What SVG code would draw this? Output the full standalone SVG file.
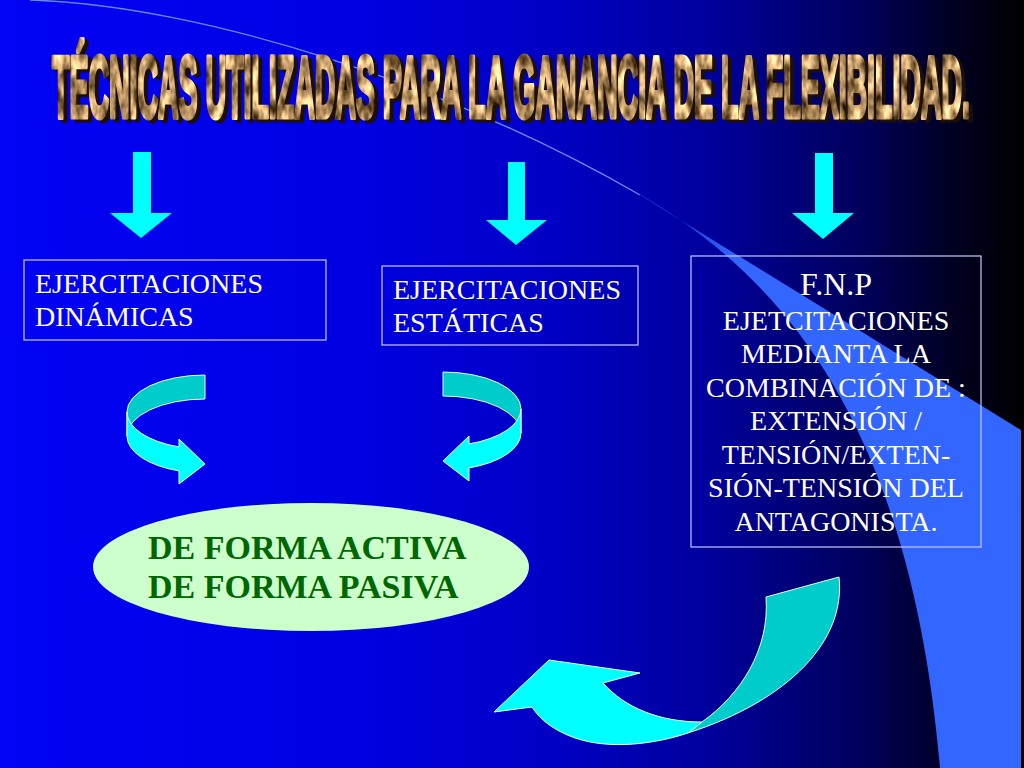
<svg xmlns="http://www.w3.org/2000/svg" width="1024" height="768" viewBox="0 0 1024 768">
  <defs>
    <linearGradient id="bgGrad" x1="0" y1="0" x2="1" y2="0">
      <stop offset="0" stop-color="#0303f5"/>
      <stop offset="0.35" stop-color="#0000e2"/>
      <stop offset="0.55" stop-color="#0000c2"/>
      <stop offset="0.70" stop-color="#00009a"/>
      <stop offset="0.84" stop-color="#00005c"/>
      <stop offset="0.93" stop-color="#000022"/>
      <stop offset="1" stop-color="#000000"/>
    </linearGradient>
    <linearGradient id="bandGrad" gradientUnits="userSpaceOnUse" x1="622" y1="184" x2="730" y2="270">
      <stop offset="0" stop-color="#3366ff" stop-opacity="0.25"/>
      <stop offset="1" stop-color="#3366ff" stop-opacity="1"/>
    </linearGradient>
    <filter id="goldTex" x="-2%" y="-25%" width="104%" height="150%" color-interpolation-filters="sRGB">
      <feTurbulence type="fractalNoise" baseFrequency="0.1 0.16" numOctaves="3" seed="7" result="noise"/>
      <feColorMatrix in="noise" type="matrix" values="1.7 0 0 0 -0.1  1.5 0 0 0 -0.15  1.2 0 0 0 -0.2  0 0 0 0 1" result="tex"/>
      <feComposite in="tex" in2="SourceAlpha" operator="in" result="goldText"/>
      <feOffset in="SourceAlpha" dx="4" dy="0.9" result="off"/>
      <feFlood flood-color="#1c0f05"/>
      <feComposite in2="off" operator="in" result="shadow"/>
      <feMerge>
        <feMergeNode in="shadow"/>
        <feMergeNode in="goldText"/>
      </feMerge>
    </filter>
    <style>
      .box { fill: none; stroke: #c8c8ff; stroke-width: 1.2; }
      .lbl { font-family: "Liberation Serif", "Times New Roman", serif; font-size: 28px; fill: #ffffff; }
      .ctr { text-anchor: middle; }
      .green { font-family: "Liberation Serif", "Times New Roman", serif; font-size: 34px; font-weight: bold; fill: #006600; }
      .down { fill: #00ffff; }
      .back { fill: #00cccc; stroke: #e6ffff; stroke-width: 1; stroke-linejoin: round; }
      .front { fill: #00ffff; stroke: #e6ffff; stroke-width: 1; stroke-linejoin: round; }
    </style>
  </defs>

  <g id="background">
    <rect x="0" y="0" width="1024" height="768" fill="url(#bgGrad)"/>
    <path d="M 30,0 C 200,5 450,85 640,195" fill="none" stroke="#6a8cff" stroke-width="1.3"/>
    <path d="M 622,184 C 780,270 910,420 940,768 L 1021,768 L 1021,430 Z" fill="url(#bandGrad)"/>
  </g>

  <g id="title">
    <text transform="translate(52,117) scale(1,3.5)" x="0" y="0" font-family="'Liberation Sans', Arial, sans-serif" font-weight="bold" font-size="25" textLength="918" lengthAdjust="spacingAndGlyphs" fill="#c0a070" stroke="#c0a070" stroke-width="1.5" stroke-linejoin="round" filter="url(#goldTex)">TÉCNICAS UTILIZADAS PARA LA GANANCIA DE LA FLEXIBILIDAD.</text>
  </g>

  <g id="connectors">
    <path class="down" d="M133,152 H151 V213 H172 L141,238 L110,213 H133 Z"/>
    <path class="down" d="M508,162 H525 V220 H547 L516,245 L486,220 H508 Z"/>
    <path class="down" d="M815,153 H833 V213 H854 L823,239 L792,213 H815 Z"/>
    <g id="curl-left">
      <path class="back" d="M205,375 A78,37 0 0 0 127,412 L127,436 A78,37 0 0 1 205,399 Z"/>
      <path class="front" d="M127,412 A78,37 0 0 0 179,446.9 L179,439 L205,464 L179,484 L179,470.9 A78,37 0 0 1 127,436 Z"/>
    </g>
    <g id="curl-right" transform="translate(648,-3) scale(-1,1)">
      <path class="back" d="M205,375 A78,37 0 0 0 127,412 L127,436 A78,37 0 0 1 205,399 Z"/>
      <path class="front" d="M127,412 A78,37 0 0 0 179,446.9 L179,439 L205,464 L179,484 L179,470.9 A78,37 0 0 1 127,436 Z"/>
    </g>
    <g id="curl-bottom">
      <path class="back" d="M766,597 L839,577 C846,640 790,700 688,733 L702,722 C740,695 770,650 766,597 Z"/>
      <path class="front" d="M603,683 C625,708 660,722 702,722 L688,733 C655,744 610,750 575,738 C555,731 540,720 532,707 L494,712 L549,660 L640,673 Z"/>
    </g>
  </g>

  <g id="node-dinamicas">
    <rect class="box" x="24" y="260" width="302" height="80"/>
    <text class="lbl" x="35" y="293">EJERCITACIONES</text>
    <text class="lbl" x="35" y="326">DINÁMICAS</text>
  </g>

  <g id="node-estaticas">
    <rect class="box" x="382" y="266" width="256" height="79"/>
    <text class="lbl" x="393" y="299">EJERCITACIONES</text>
    <text class="lbl" x="393" y="332">ESTÁTICAS</text>
  </g>

  <g id="node-fnp">
    <rect class="box" x="691" y="256" width="290" height="291"/>
    <text class="lbl ctr" x="836" y="295" style="font-size:32px">F.N.P</text>
    <text class="lbl ctr" x="836" y="330">EJETCITACIONES</text>
    <text class="lbl ctr" x="836" y="363">MEDIANTA LA</text>
    <text class="lbl ctr" x="836" y="397">COMBINACIÓN DE :</text>
    <text class="lbl ctr" x="836" y="430">EXTENSIÓN /</text>
    <text class="lbl ctr" x="836" y="464">TENSIÓN/EXTEN-</text>
    <text class="lbl ctr" x="836" y="497">SIÓN-TENSIÓN DEL</text>
    <text class="lbl ctr" x="836" y="531">ANTAGONISTA.</text>
  </g>

  <g id="node-forma">
    <ellipse cx="311" cy="567" rx="218" ry="64" fill="#ccffcc"/>
    <text class="green" x="148" y="559">DE FORMA ACTIVA</text>
    <text class="green" x="148" y="598">DE FORMA PASIVA</text>
  </g>
</svg>
